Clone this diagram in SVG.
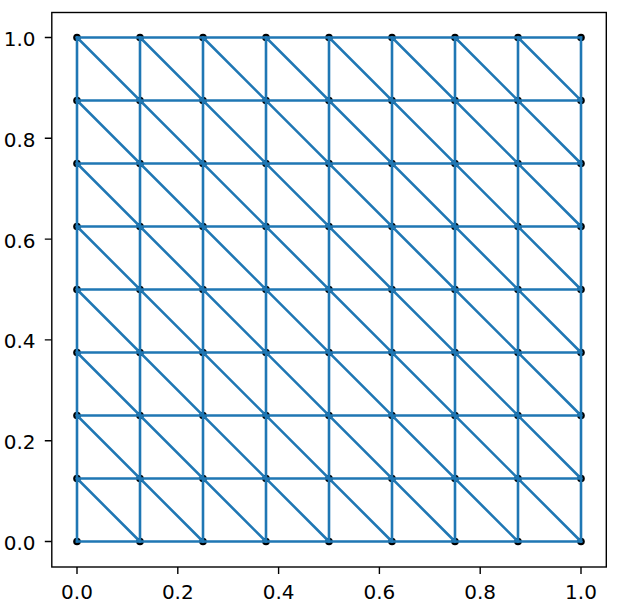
<svg xmlns="http://www.w3.org/2000/svg" width="626" height="608" viewBox="0 0 626 608">
<style>
.edge{fill:none;stroke:#1f77b4;stroke-width:2.6;stroke-linecap:square}
.node{fill:#000}
.frame{fill:none;stroke:#000;stroke-width:1.4}
.tick{stroke:#000;stroke-width:1.4}
.lbl{font-family:"DejaVu Sans",sans-serif;font-size:20px;fill:#000}
</style>
<rect width="626" height="608" fill="#fff"/>
<g id="nodes">
<g id="row0"><circle class="node" cx="77" cy="541.5" r="3.8"/><circle class="node" cx="140" cy="541.5" r="3.8"/><circle class="node" cx="203" cy="541.5" r="3.8"/><circle class="node" cx="266" cy="541.5" r="3.8"/><circle class="node" cx="329" cy="541.5" r="3.8"/><circle class="node" cx="392" cy="541.5" r="3.8"/><circle class="node" cx="455" cy="541.5" r="3.8"/><circle class="node" cx="518" cy="541.5" r="3.8"/><circle class="node" cx="581" cy="541.5" r="3.8"/></g>
<g id="row1"><circle class="node" cx="77" cy="478.5" r="3.8"/><circle class="node" cx="140" cy="478.5" r="3.8"/><circle class="node" cx="203" cy="478.5" r="3.8"/><circle class="node" cx="266" cy="478.5" r="3.8"/><circle class="node" cx="329" cy="478.5" r="3.8"/><circle class="node" cx="392" cy="478.5" r="3.8"/><circle class="node" cx="455" cy="478.5" r="3.8"/><circle class="node" cx="518" cy="478.5" r="3.8"/><circle class="node" cx="581" cy="478.5" r="3.8"/></g>
<g id="row2"><circle class="node" cx="77" cy="415.5" r="3.8"/><circle class="node" cx="140" cy="415.5" r="3.8"/><circle class="node" cx="203" cy="415.5" r="3.8"/><circle class="node" cx="266" cy="415.5" r="3.8"/><circle class="node" cx="329" cy="415.5" r="3.8"/><circle class="node" cx="392" cy="415.5" r="3.8"/><circle class="node" cx="455" cy="415.5" r="3.8"/><circle class="node" cx="518" cy="415.5" r="3.8"/><circle class="node" cx="581" cy="415.5" r="3.8"/></g>
<g id="row3"><circle class="node" cx="77" cy="352.5" r="3.8"/><circle class="node" cx="140" cy="352.5" r="3.8"/><circle class="node" cx="203" cy="352.5" r="3.8"/><circle class="node" cx="266" cy="352.5" r="3.8"/><circle class="node" cx="329" cy="352.5" r="3.8"/><circle class="node" cx="392" cy="352.5" r="3.8"/><circle class="node" cx="455" cy="352.5" r="3.8"/><circle class="node" cx="518" cy="352.5" r="3.8"/><circle class="node" cx="581" cy="352.5" r="3.8"/></g>
<g id="row4"><circle class="node" cx="77" cy="289.5" r="3.8"/><circle class="node" cx="140" cy="289.5" r="3.8"/><circle class="node" cx="203" cy="289.5" r="3.8"/><circle class="node" cx="266" cy="289.5" r="3.8"/><circle class="node" cx="329" cy="289.5" r="3.8"/><circle class="node" cx="392" cy="289.5" r="3.8"/><circle class="node" cx="455" cy="289.5" r="3.8"/><circle class="node" cx="518" cy="289.5" r="3.8"/><circle class="node" cx="581" cy="289.5" r="3.8"/></g>
<g id="row5"><circle class="node" cx="77" cy="226.5" r="3.8"/><circle class="node" cx="140" cy="226.5" r="3.8"/><circle class="node" cx="203" cy="226.5" r="3.8"/><circle class="node" cx="266" cy="226.5" r="3.8"/><circle class="node" cx="329" cy="226.5" r="3.8"/><circle class="node" cx="392" cy="226.5" r="3.8"/><circle class="node" cx="455" cy="226.5" r="3.8"/><circle class="node" cx="518" cy="226.5" r="3.8"/><circle class="node" cx="581" cy="226.5" r="3.8"/></g>
<g id="row6"><circle class="node" cx="77" cy="163.5" r="3.8"/><circle class="node" cx="140" cy="163.5" r="3.8"/><circle class="node" cx="203" cy="163.5" r="3.8"/><circle class="node" cx="266" cy="163.5" r="3.8"/><circle class="node" cx="329" cy="163.5" r="3.8"/><circle class="node" cx="392" cy="163.5" r="3.8"/><circle class="node" cx="455" cy="163.5" r="3.8"/><circle class="node" cx="518" cy="163.5" r="3.8"/><circle class="node" cx="581" cy="163.5" r="3.8"/></g>
<g id="row7"><circle class="node" cx="77" cy="100.5" r="3.8"/><circle class="node" cx="140" cy="100.5" r="3.8"/><circle class="node" cx="203" cy="100.5" r="3.8"/><circle class="node" cx="266" cy="100.5" r="3.8"/><circle class="node" cx="329" cy="100.5" r="3.8"/><circle class="node" cx="392" cy="100.5" r="3.8"/><circle class="node" cx="455" cy="100.5" r="3.8"/><circle class="node" cx="518" cy="100.5" r="3.8"/><circle class="node" cx="581" cy="100.5" r="3.8"/></g>
<g id="row8"><circle class="node" cx="77" cy="37.5" r="3.8"/><circle class="node" cx="140" cy="37.5" r="3.8"/><circle class="node" cx="203" cy="37.5" r="3.8"/><circle class="node" cx="266" cy="37.5" r="3.8"/><circle class="node" cx="329" cy="37.5" r="3.8"/><circle class="node" cx="392" cy="37.5" r="3.8"/><circle class="node" cx="455" cy="37.5" r="3.8"/><circle class="node" cx="518" cy="37.5" r="3.8"/><circle class="node" cx="581" cy="37.5" r="3.8"/></g>
</g>
<g id="connectors">
<path class="edge" d="M77 541.5H581M77 478.5H581M77 415.5H581M77 352.5H581M77 289.5H581M77 226.5H581M77 163.5H581M77 100.5H581M77 37.5H581"/>
<path class="edge" d="M77 37.5V541.5M140 37.5V541.5M203 37.5V541.5M266 37.5V541.5M329 37.5V541.5M392 37.5V541.5M455 37.5V541.5M518 37.5V541.5M581 37.5V541.5"/>
<path class="edge" d="M77 478.5L140 541.5M77 415.5L203 541.5M77 352.5L266 541.5M77 289.5L329 541.5M77 226.5L392 541.5M77 163.5L455 541.5M77 100.5L518 541.5M77 37.5L581 541.5M140 37.5L581 478.5M203 37.5L581 415.5M266 37.5L581 352.5M329 37.5L581 289.5M392 37.5L581 226.5M455 37.5L581 163.5M518 37.5L581 100.5"/>
</g>
<g id="axes">
<rect class="frame" x="51.8" y="12.5" width="554.5" height="554.5"/>
<path class="tick" d="M77 567V574M177.8 567V574M278.6 567V574M379.4 567V574M480.2 567V574M581 567V574"/>
<path class="tick" d="M51.8 541.5H44.8M51.8 440.7H44.8M51.8 339.9H44.8M51.8 239.1H44.8M51.8 138.3H44.8M51.8 37.5H44.8"/>
<g class="lbl" text-anchor="middle">
<text x="77" y="599">0.0</text>
<text x="177.8" y="599">0.2</text>
<text x="278.6" y="599">0.4</text>
<text x="379.4" y="599">0.6</text>
<text x="480.2" y="599">0.8</text>
<text x="581" y="599">1.0</text>
</g>
<g class="lbl" text-anchor="end">
<text x="35.5" y="550">0.0</text>
<text x="35.5" y="449.2">0.2</text>
<text x="35.5" y="348.4">0.4</text>
<text x="35.5" y="247.6">0.6</text>
<text x="35.5" y="146.8">0.8</text>
<text x="35.5" y="46">1.0</text>
</g>
</g>
</svg>
